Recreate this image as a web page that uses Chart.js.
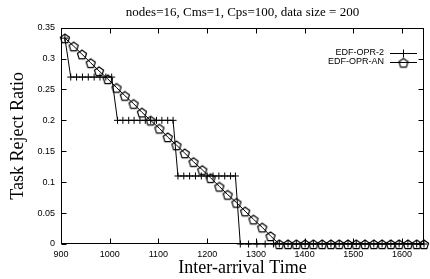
<!DOCTYPE html>
<html>
<head>
<meta charset="utf-8">
<script src="https://cdn.jsdelivr.net/npm/chart.js@4/dist/chart.umd.min.js"></script>
<style>
  html, body { margin: 0; padding: 0; background: #fff; }
  #chart { display: block; }
</style>
</head>
<body>
<canvas id="chart" width="430" height="279"></canvas>
<script>
// chart text
const chartTitle = 'nodes=16, Cms=1, Cps=100, data size = 200';
const xTitle = 'Inter-arrival Time';
const yTitle = 'Task Reject Ratio';
const seriesNames = ['EDF-OPR-2', 'EDF-OPR-AN'];

// tick labels
const xTicks = [900, 1000, 1100, 1200, 1300, 1400, 1500, 1600];
const yTicks = [0, 0.05, 0.1, 0.15, 0.2, 0.25, 0.3, 0.35];

// EDF-OPR-2 (step shaped)
const opr2X = [908, 920, 932, 944, 956, 968, 980, 992, 1004,
  1016, 1027, 1039, 1050, 1062, 1073, 1084, 1096, 1107, 1119, 1130,
  1140, 1152, 1164, 1176, 1188, 1200, 1212, 1224, 1236, 1248, 1258,
  1268, 1285, 1302, 1319, 1336, 1348, 1366, 1383, 1401, 1418, 1436,
  1454, 1471, 1489, 1506, 1524, 1542, 1559, 1577, 1594, 1612, 1630, 1645];
const opr2Y = [0.333, 0.27, 0.27, 0.27, 0.27, 0.27, 0.27, 0.27, 0.27,
  0.2, 0.2, 0.2, 0.2, 0.2, 0.2, 0.2, 0.2, 0.2, 0.2, 0.2,
  0.11, 0.11, 0.11, 0.11, 0.11, 0.11, 0.11, 0.11, 0.11, 0.11, 0.11,
  0, 0, 0, 0, 0, 0, 0, 0, 0, 0, 0,
  0, 0, 0, 0, 0, 0, 0, 0, 0, 0, 0, 0];

// EDF-OPR-AN
const anX = [908, 926, 943, 961, 978, 996, 1014, 1031, 1049, 1066,
  1084, 1102, 1119, 1137, 1154, 1172, 1190, 1207, 1225, 1242,
  1260, 1278, 1295, 1313, 1330, 1348, 1366, 1383, 1401, 1418,
  1436, 1454, 1471, 1489, 1506, 1524, 1542, 1559, 1577, 1594,
  1612, 1630, 1645];
const anY = [0.333, 0.32, 0.307, 0.293, 0.28, 0.267, 0.253, 0.24, 0.227, 0.213,
  0.2, 0.187, 0.173, 0.16, 0.147, 0.133, 0.12, 0.107, 0.093, 0.08,
  0.067, 0.053, 0.04, 0.027, 0.013, 0, 0, 0, 0, 0,
  0, 0, 0, 0, 0, 0, 0, 0, 0, 0,
  0, 0, 0];

const serif = '"Liberation Serif", "DejaVu Serif", serif';
const sans = '"Liberation Sans", Arial, sans-serif';

// open pentagon marker
function makePentagon(r) {
  const size = Math.ceil(r * 2 + 4);
  const c = document.createElement('canvas');
  c.width = size; c.height = size;
  const g = c.getContext('2d');
  g.strokeStyle = '#000';
  g.lineWidth = 1.2;
  g.lineJoin = 'miter';
  g.beginPath();
  for (let i = 0; i < 5; i++) {
    const a = -Math.PI / 2 + i * 2 * Math.PI / 5;
    const px = size / 2 + r * Math.cos(a);
    const py = size / 2 + r * Math.sin(a) + 0.7;
    if (i === 0) g.moveTo(px, py); else g.lineTo(px, py);
  }
  g.closePath();
  g.stroke();
  return c;
}
const pentagon = makePentagon(4.8);

// border box with inward ticks on all four sides
const frame = {
  id: 'frame',
  beforeDatasetsDraw(chart) {
    const { ctx, chartArea: a, scales } = chart;
    const L = Math.round(a.left) + 0.5, R = Math.round(a.right) - 0.5;
    const T = Math.round(a.top) + 0.5, B = Math.round(a.bottom) - 0.5;
    ctx.save();
    ctx.strokeStyle = '#000';
    ctx.lineWidth = 1;
    ctx.strokeRect(L, T, R - L, B - T);
    ctx.beginPath();
    xTicks.forEach(v => {
      const px = Math.round(scales.x.getPixelForValue(v)) + 0.5;
      ctx.moveTo(px, B); ctx.lineTo(px, B - 5);
      ctx.moveTo(px, T); ctx.lineTo(px, T + 5);
    });
    yTicks.forEach(v => {
      const py = Math.round(scales.y.getPixelForValue(v)) + 0.5;
      ctx.moveTo(L, py); ctx.lineTo(L + 5, py);
      ctx.moveTo(R, py); ctx.lineTo(R - 5, py);
    });
    ctx.stroke();
    ctx.restore();
  }
};

// gnuplot style key: text then sample
const key = {
  id: 'key',
  afterDraw(chart) {
    const ctx = chart.ctx;
    const rows = [53, 62];
    ctx.save();
    ctx.font = '9px ' + sans;
    ctx.fillStyle = '#000';
    ctx.strokeStyle = '#000';
    ctx.lineWidth = 1;
    ctx.textAlign = 'right';
    ctx.textBaseline = 'middle';
    rows.forEach((y, i) => {
      ctx.fillText(seriesNames[i], 384, y);
      ctx.beginPath();
      ctx.moveTo(390, y + 0.5); ctx.lineTo(417, y + 0.5);
      if (i === 0) {
        ctx.moveTo(403.5, y - 3.5); ctx.lineTo(403.5, y + 4.5);
      }
      ctx.stroke();
      if (i === 1) ctx.drawImage(pentagon, 403.5 - pentagon.width / 2, y + 0.5 - pentagon.height / 2);
    });
    ctx.restore();
  }
};

new Chart(document.getElementById('chart'), {
  type: 'line',
  data: {
    datasets: [{
      label: seriesNames[0],
      data: opr2X.map((x, i) => ({ x: x, y: opr2Y[i] })),
      borderColor: '#000',
      backgroundColor: '#000',
      borderWidth: 1,
      pointStyle: 'cross',
      pointRadius: 3.5,
      pointBorderWidth: 1,
      pointBorderColor: '#000',
      tension: 0,
      fill: false,
      clip: false
    }, {
      label: seriesNames[1],
      data: anX.map((x, i) => ({ x: x, y: anY[i] })),
      borderColor: '#000',
      backgroundColor: 'rgba(0,0,0,0)',
      borderWidth: 1,
      pointStyle: pentagon,
      pointRadius: 4,
      tension: 0,
      fill: false,
      clip: false
    }]
  },
  options: {
    responsive: false,
    animation: false,
    devicePixelRatio: 1,
    layout: { padding: { left: 0, right: 6, top: 0, bottom: 0 } },
    plugins: {
      legend: { display: false },
      tooltip: { enabled: false },
      title: {
        display: true,
        text: chartTitle,
        fullSize: false,
        color: '#000',
        font: { family: serif, size: 13, weight: 'normal' },
        padding: { top: 5, bottom: 7 }
      }
    },
    scales: {
      x: {
        type: 'linear',
        min: 900,
        max: 1645,
        afterBuildTicks: s => { s.ticks = xTicks.map(v => ({ value: v })); },
        afterFit: s => { s.height = 35; },
        grid: { display: false, drawTicks: false },
        border: { display: false },
        ticks: {
          color: '#000',
          font: { family: sans, size: 9 },
          padding: 5,
          maxRotation: 0,
          autoSkip: false,
          callback: v => String(v)
        },
        title: {
          display: true,
          text: xTitle,
          color: '#000',
          font: { family: serif, size: 18 },
          padding: { top: 0, bottom: 0 }
        }
      },
      y: {
        min: 0,
        max: 0.35,
        afterBuildTicks: s => { s.ticks = yTicks.map(v => ({ value: v })); },
        afterFit: s => { s.width = 61; },
        grid: { display: false, drawTicks: false },
        border: { display: false },
        ticks: {
          color: '#000',
          font: { family: sans, size: 9 },
          padding: 6,
          autoSkip: false,
          callback: v => String(v)
        },
        title: {
          display: true,
          text: yTitle,
          color: '#000',
          font: { family: serif, size: 18 },
          padding: { top: 7, bottom: 0 }
        }
      }
    }
  },
  plugins: [frame, key]
});
</script>
</body>
</html>
